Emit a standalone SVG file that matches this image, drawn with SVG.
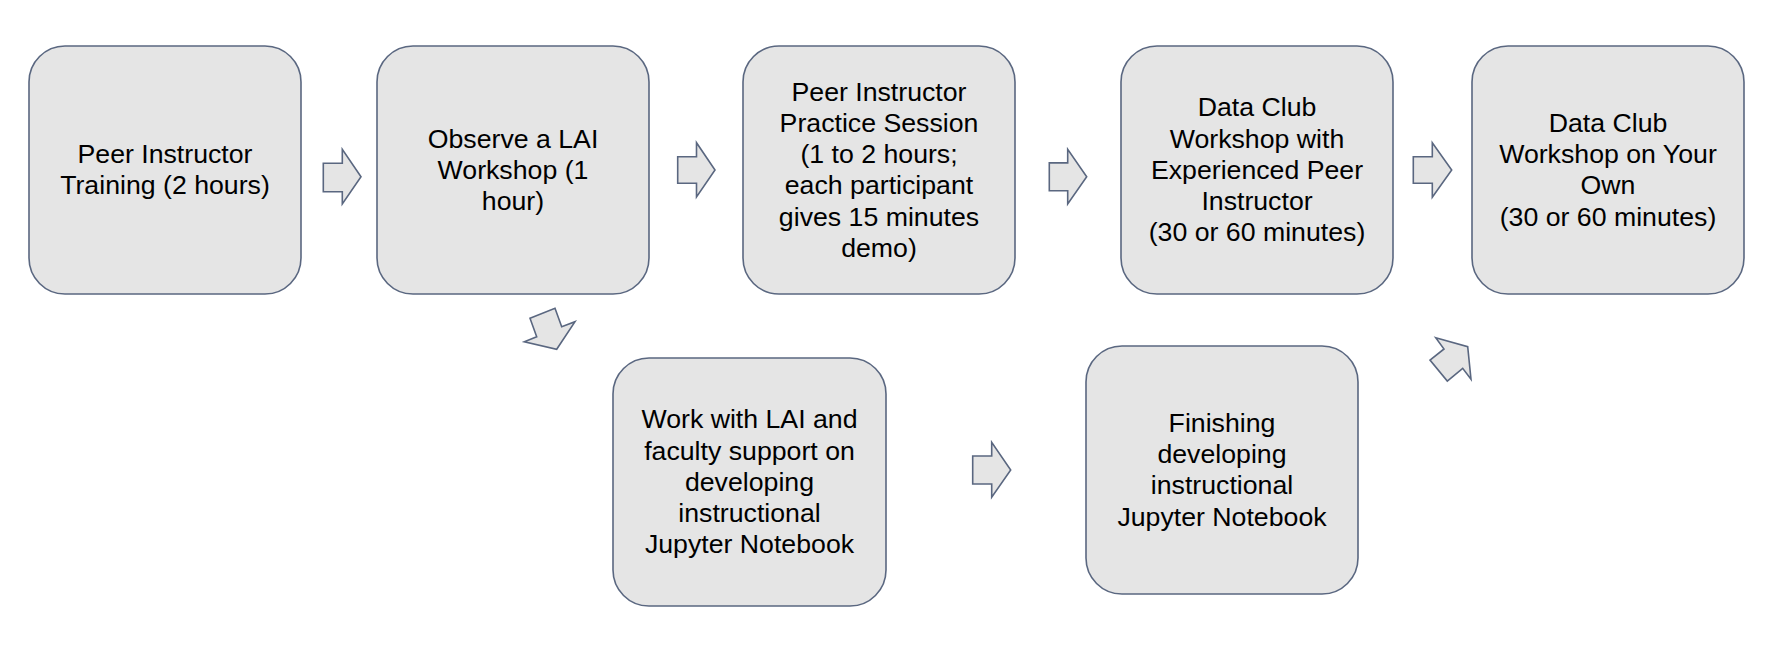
<svg xmlns="http://www.w3.org/2000/svg" width="1788" height="670" viewBox="0 0 1788 670">
<style>
.box{fill:#e5e5e5;stroke:#5a6780;stroke-width:1.6}
.arr{fill:#e5e5e5;stroke:#5a6780;stroke-width:1.6;stroke-linejoin:miter}
text{font-family:"Liberation Sans",Arial,sans-serif;font-size:26.7px;fill:#000;text-anchor:middle}
</style>
<rect width="1788" height="670" fill="#fff"/>
<g id="connectors">
<polygon class="arr" points="323.3,163.3 342.3,163.3 342.3,149.3 361,176.7 342.3,204 342.3,191.7 323.3,191.7"/>
<polygon class="arr" points="677.7,156.7 696.5,156.7 696.5,142.7 715,170 696.5,197 696.5,183.3 677.7,183.3"/>
<polygon class="arr" points="1049.3,162.9 1067.7,162.9 1067.7,149.3 1086.7,176.7 1067.7,204 1067.7,190.7 1049.3,190.7"/>
<polygon class="arr" points="1413.3,156.7 1432.3,156.7 1432.3,142.7 1451.7,170 1432.3,197.3 1432.3,183.3 1413.3,183.3"/>
<polygon class="arr" points="972.7,456 991.7,456 991.7,442.3 1010.7,470 991.7,497.3 991.7,484 972.7,484"/>
<polygon class="arr" points="530,318.3 555,308.3 561.7,326.7 575,321.7 556.7,349.3 524.3,341.7 536.7,336.7"/>
<polygon class="arr" points="1435.7,337.7 1467.7,346.7 1471,379.3 1462.7,368.3 1447.3,381 1430,360 1444,349"/>
</g>
<g id="n1">
<rect class="box" x="29" y="46" width="272" height="248" rx="36"/>
<text x="165" y="163.1">Peer Instructor</text>
<text x="165" y="194.3">Training (2 hours)</text>
</g>
<g id="n2">
<rect class="box" x="377" y="46" width="272" height="248" rx="36"/>
<text x="513" y="147.5">Observe a LAI</text>
<text x="513" y="178.7">Workshop (1</text>
<text x="513" y="209.9">hour)</text>
</g>
<g id="n3">
<rect class="box" x="743" y="46" width="272" height="248" rx="36"/>
<text x="879" y="100.7">Peer Instructor</text>
<text x="879" y="131.9">Practice Session</text>
<text x="879" y="163.1">(1 to 2 hours;</text>
<text x="879" y="194.3">each participant</text>
<text x="879" y="225.5">gives 15 minutes</text>
<text x="879" y="256.7">demo)</text>
</g>
<g id="n4">
<rect class="box" x="1121" y="46" width="272" height="248" rx="36"/>
<text x="1257" y="116.3">Data Club</text>
<text x="1257" y="147.5">Workshop with</text>
<text x="1257" y="178.7">Experienced Peer</text>
<text x="1257" y="209.9">Instructor</text>
<text x="1257" y="241.1">(30 or 60 minutes)</text>
</g>
<g id="n5">
<rect class="box" x="1472" y="46" width="272" height="248" rx="36"/>
<text x="1608" y="131.9">Data Club</text>
<text x="1608" y="163.1">Workshop on Your</text>
<text x="1608" y="194.3">Own</text>
<text x="1608" y="225.5">(30 or 60 minutes)</text>
</g>
<g id="n6">
<rect class="box" x="613" y="358" width="273" height="248" rx="36"/>
<text x="749.5" y="428.3">Work with LAI and</text>
<text x="749.5" y="459.5">faculty support on</text>
<text x="749.5" y="490.7">developing</text>
<text x="749.5" y="521.9">instructional</text>
<text x="749.5" y="553.1">Jupyter Notebook</text>
</g>
<g id="n7">
<rect class="box" x="1086" y="346" width="272" height="248" rx="36"/>
<text x="1222" y="431.9">Finishing</text>
<text x="1222" y="463.1">developing</text>
<text x="1222" y="494.3">instructional</text>
<text x="1222" y="525.5">Jupyter Notebook</text>
</g>
</svg>
